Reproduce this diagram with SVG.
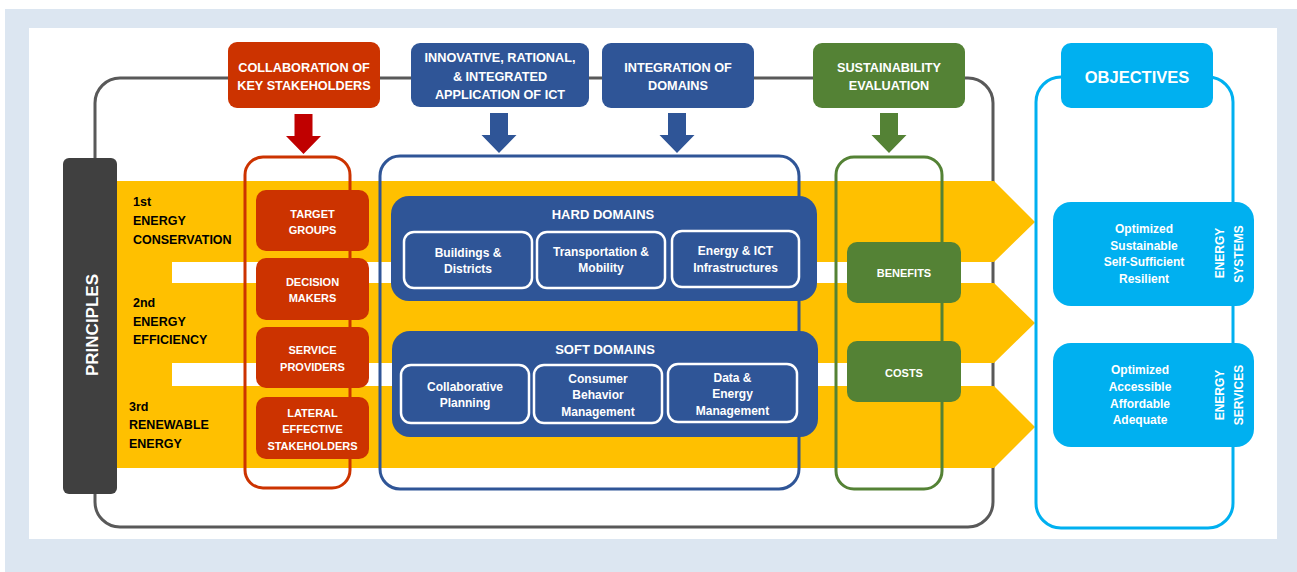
<svg xmlns="http://www.w3.org/2000/svg" width="1297" height="572" viewBox="0 0 1297 572">
<style>
text{font-family:"Liberation Sans",Arial,sans-serif;font-weight:bold;}
.w{fill:#fff;text-anchor:middle;}
.k{fill:#000;font-size:12.5px;}
.t{font-size:12.7px;}
.s{font-size:11px;}
.m{font-size:12px;}
.h{font-size:13px;}
.red{fill:#cc3300;}
.blue{fill:#2f5597;}
.green{fill:#548235;}
.cyan{fill:#00b0f0;}
.sub{fill:#2f5597;stroke:#fff;stroke-width:2.5;}
.cont{fill:none;stroke-width:3;}
</style>
<defs>
<path id="arr" d="M-9,0 H9 V22 H17.5 L0,40 L-17.5,22 H-9 Z"/>
</defs>
<rect x="0" y="0" width="1297" height="572" fill="#fff"/>
<rect x="5" y="9" width="1292" height="563" fill="#dce6f1"/>
<rect x="29" y="28" width="1248" height="511" fill="#fff"/>

<g id="frame">
<rect x="95" y="78" width="898" height="449" rx="25" fill="none" stroke="#595959" stroke-width="3"/>
</g>

<g id="bands">
<path d="M117,181 H994 L1035,222 L994,262 H172 V283 H994 L1035,323 L994,363 H172 V386 H994 L1035,427 L994,468 H117 Z" fill="#ffc000"/>
<text class="k" x="133" y="206">1st</text>
<text class="k" x="133" y="225">ENERGY</text>
<text class="k" x="133" y="244">CONSERVATION</text>
<text class="k" x="133" y="307">2nd</text>
<text class="k" x="133" y="326">ENERGY</text>
<text class="k" x="133" y="344">EFFICIENCY</text>
<text class="k" x="129" y="411">3rd</text>
<text class="k" x="129" y="429">RENEWABLE</text>
<text class="k" x="129" y="448">ENERGY</text>
</g>

<g id="principles">
<rect x="63" y="158" width="54" height="336" rx="6" fill="#404040"/>
<text class="w" font-size="17" transform="translate(98,325) rotate(-90)">PRINCIPLES</text>
</g>

<g id="collaboration">
<rect class="red" x="228" y="42" width="152" height="66" rx="9"/>
<text class="w t" x="304" y="72">COLLABORATION OF</text>
<text class="w t" x="304" y="90">KEY STAKEHOLDERS</text>
</g>

<g id="ict">
<rect class="blue" x="411" y="43" width="178" height="64" rx="9"/>
<text class="w t" x="500" y="62">INNOVATIVE, RATIONAL,</text>
<text class="w t" x="500" y="81">&amp; INTEGRATED</text>
<text class="w t" x="500" y="99">APPLICATION OF ICT</text>
</g>

<g id="integration">
<rect class="blue" x="602" y="43" width="152" height="65" rx="9"/>
<text class="w t" x="678" y="72">INTEGRATION OF</text>
<text class="w t" x="678" y="90">DOMAINS</text>
</g>

<g id="sustainability">
<rect class="green" x="813" y="43" width="152" height="65" rx="9"/>
<text class="w t" x="889" y="72">SUSTAINABILITY</text>
<text class="w t" x="889" y="90">EVALUATION</text>
</g>

<g id="connectors">
<use href="#arr" transform="translate(303.5,114)" fill="#c00000"/>
<use href="#arr" transform="translate(499,113)" fill="#2f5597"/>
<use href="#arr" transform="translate(677,113)" fill="#2f5597"/>
<use href="#arr" transform="translate(889,113)" fill="#548235"/>
</g>

<g id="stakeholders">
<rect class="cont" x="245" y="157" width="105" height="331" rx="18" stroke="#cc3300"/>
<g id="target-groups">
<rect class="red" x="256" y="190" width="113" height="61" rx="10"/>
<text class="w s" x="312.5" y="218">TARGET</text>
<text class="w s" x="312.5" y="234">GROUPS</text>
</g>
<g id="decision-makers">
<rect class="red" x="256" y="258" width="113" height="62" rx="10"/>
<text class="w s" x="312.5" y="286">DECISION</text>
<text class="w s" x="312.5" y="302">MAKERS</text>
</g>
<g id="service-providers">
<rect class="red" x="256" y="327" width="113" height="61" rx="10"/>
<text class="w s" x="312.5" y="354">SERVICE</text>
<text class="w s" x="312.5" y="371">PROVIDERS</text>
</g>
<g id="lateral">
<rect class="red" x="256" y="397" width="113" height="62" rx="10"/>
<text class="w s" x="312.5" y="417">LATERAL</text>
<text class="w s" x="312.5" y="433">EFFECTIVE</text>
<text class="w s" x="312.5" y="450">STAKEHOLDERS</text>
</g>
</g>

<g id="domains">
<rect class="cont" x="380" y="156" width="419" height="333" rx="20" stroke="#2f5597"/>
<g id="hard-domains">
<rect class="blue" x="391" y="196" width="426" height="105" rx="18"/>
<text class="w h" x="603" y="219">HARD DOMAINS</text>
<g id="buildings">
<rect class="sub" x="404" y="232" width="128" height="56" rx="10"/>
<text class="w m" x="468" y="257">Buildings &amp;</text>
<text class="w m" x="468" y="273">Districts</text>
</g>
<g id="transportation">
<rect class="sub" x="537" y="232" width="128" height="56" rx="10"/>
<text class="w m" x="601" y="256">Transportation &amp;</text>
<text class="w m" x="601" y="272">Mobility</text>
</g>
<g id="infrastructures">
<rect class="sub" x="672" y="231" width="127" height="56" rx="10"/>
<text class="w m" x="735.5" y="255">Energy &amp; ICT</text>
<text class="w m" x="735.5" y="272">Infrastructures</text>
</g>
</g>
<g id="soft-domains">
<rect class="blue" x="392" y="331" width="426" height="106" rx="18"/>
<text class="w h" x="605" y="354">SOFT DOMAINS</text>
<g id="collab-planning">
<rect class="sub" x="401" y="365" width="128" height="58" rx="10"/>
<text class="w m" x="465" y="391">Collaborative</text>
<text class="w m" x="465" y="407">Planning</text>
</g>
<g id="consumer">
<rect class="sub" x="534" y="365" width="128" height="58" rx="10"/>
<text class="w m" x="598" y="383">Consumer</text>
<text class="w m" x="598" y="399">Behavior</text>
<text class="w m" x="598" y="416">Management</text>
</g>
<g id="data-energy">
<rect class="sub" x="668" y="364" width="129" height="58" rx="10"/>
<text class="w m" x="732.5" y="382">Data &amp;</text>
<text class="w m" x="732.5" y="398">Energy</text>
<text class="w m" x="732.5" y="415">Management</text>
</g>
</g>
</g>

<g id="evaluation">
<rect class="cont" x="836" y="157" width="106" height="332" rx="18" stroke="#548235"/>
<g id="benefits">
<rect class="green" x="847" y="242" width="114" height="61" rx="10"/>
<text class="w s" x="904" y="277">BENEFITS</text>
</g>
<g id="costs">
<rect class="green" x="847" y="341" width="114" height="61" rx="10"/>
<text class="w s" x="904" y="377">COSTS</text>
</g>
</g>

<g id="objectives">
<rect class="cont" x="1036" y="77" width="197" height="451" rx="25" stroke="#00b0f0"/>
<rect class="cyan" x="1061" y="43" width="152" height="65" rx="10"/>
<text class="w" font-size="16.5" x="1137" y="83">OBJECTIVES</text>
<g id="energy-systems">
<rect class="cyan" x="1053" y="202" width="201" height="104" rx="18"/>
<text class="w m" x="1144" y="233">Optimized</text>
<text class="w m" x="1144" y="250">Sustainable</text>
<text class="w m" x="1144" y="266">Self-Sufficient</text>
<text class="w m" x="1144" y="283">Resilient</text>
<text class="w m" transform="translate(1224,253) rotate(-90)">ENERGY</text>
<text class="w m" transform="translate(1243,254) rotate(-90)">SYSTEMS</text>
</g>
<g id="energy-services">
<rect class="cyan" x="1053" y="343" width="201" height="104" rx="18"/>
<text class="w m" x="1140" y="374">Optimized</text>
<text class="w m" x="1140" y="391">Accessible</text>
<text class="w m" x="1140" y="408">Affordable</text>
<text class="w m" x="1140" y="424">Adequate</text>
<text class="w m" transform="translate(1224,395) rotate(-90)">ENERGY</text>
<text class="w m" transform="translate(1243,395) rotate(-90)">SERVICES</text>
</g>
</g>
</svg>
